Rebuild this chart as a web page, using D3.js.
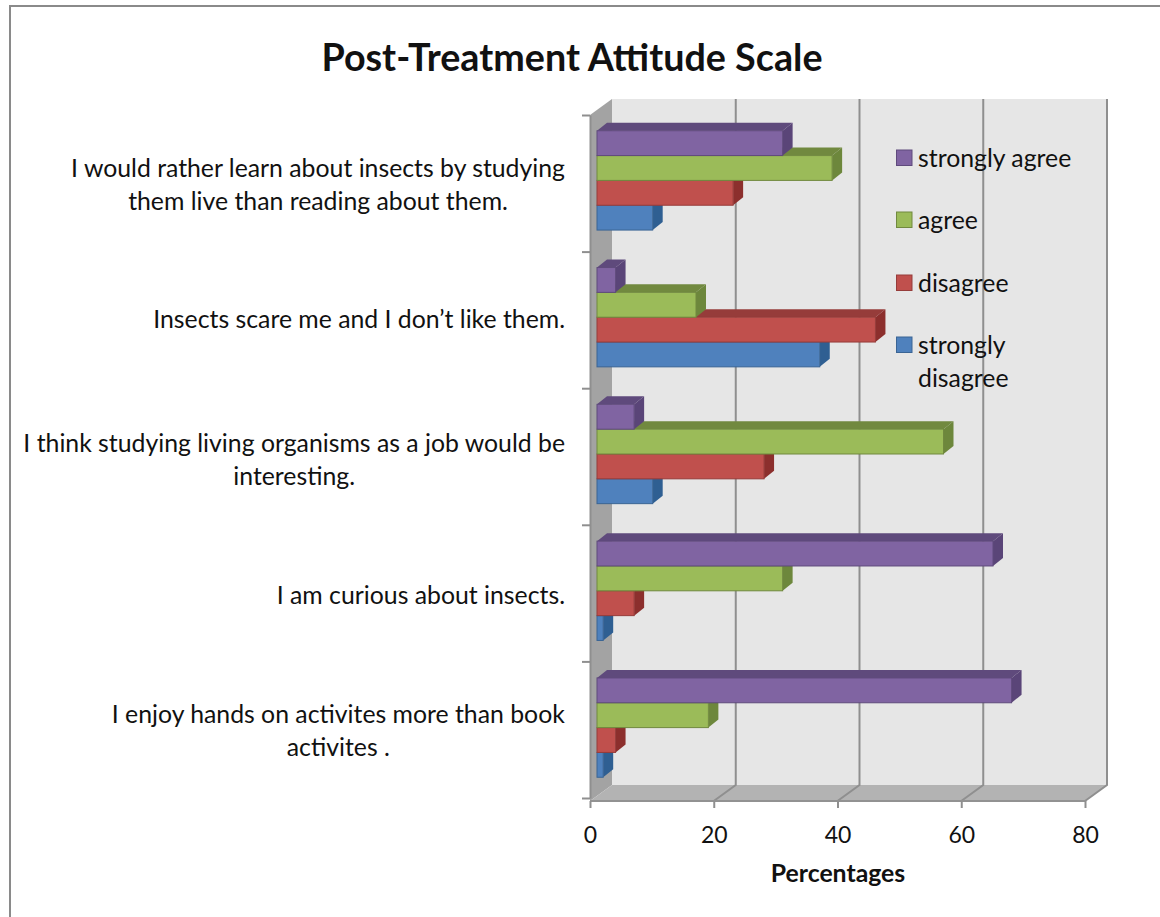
<!DOCTYPE html>
<html>
<head>
<meta charset="utf-8">
<script src="https://cdn.jsdelivr.net/npm/d3@7"></script>
<style>
  html, body { margin: 0; padding: 0; background: #fff; }
  svg { display: block; }
  text { font-family: Lato, "Open Sans", sans-serif; fill: #111; }
</style>
</head>
<body>
<svg id="chart" width="1160" height="917"></svg>
<script>
const categories = [
  ["I would rather learn about insects by studying", "them live than reading about them."],
  ["Insects scare me and I don\u2019t like them."],
  ["I think studying living organisms as a job would be", "interesting."],
  ["I am curious about insects."],
  ["I enjoy hands on activites more than book", "activites ."]
];
const seriesNames = ["strongly agree", "agree", "disagree", "strongly disagree"];
const stronglyAgree = [30, 3, 6, 64, 67];
const agree = [38, 16, 56, 30, 18];
const disagree = [22, 45, 27, 6, 3];
const stronglyDisagree = [9, 36, 9, 1, 1];
const seriesValues = [stronglyAgree, agree, disagree, stronglyDisagree];
const xTicks = [0, 20, 40, 60, 80];

// front, top, side colours per series
const colors = [
  ["#8064a2", "#5f4a7c", "#5a4578"],
  ["#9bbb59", "#71893f", "#6d873c"],
  ["#c0504d", "#963c3a", "#8c2f2d"],
  ["#4f81bd", "#3a6494", "#2f5f92"]
];

const svg = d3.select("#chart");
const depthX = 22, depthY = 16;
const barDx = 10, barDy = 8;
const plotLeft = 590, plotRight = 1085, plotTop = 115, plotBottom = 801;

const x = d3.scaleLinear().domain([0, 80]).range([plotLeft, plotRight]);
const yIdx = d3.scaleLinear().domain([0, 5]).range([plotTop, 798]);
const y = d3.scaleBand().domain(d3.range(5)).range([plotTop - 3, 798 - 2]).paddingInner(0.274).paddingOuter(0.137);
const yBar = d3.scaleBand().domain(d3.range(4)).range([0, y.bandwidth()]);

const poly = pts => pts.map(p => p.join(",")).join(" ");

// back wall, side wall, floor
svg.append("polygon")
  .attr("points", poly([[plotLeft + depthX, plotTop - depthY], [plotRight + depthX, plotTop - depthY], [plotRight + depthX, plotBottom - depthY], [plotLeft + depthX, plotBottom - depthY]]))
  .attr("fill", "#e6e6e6");
svg.append("polygon")
  .attr("points", poly([[plotLeft, plotTop], [plotLeft + depthX, plotTop - depthY], [plotLeft + depthX, plotBottom - depthY], [plotLeft, plotBottom]]))
  .attr("fill", "#a3a3a3");
svg.append("polygon")
  .attr("points", poly([[plotLeft, plotBottom], [plotLeft + depthX, plotBottom - depthY], [plotRight + depthX, plotBottom - depthY], [plotRight, plotBottom]]))
  .attr("fill", "#b3b3b3");

// gridlines on wall and floor
xTicks.filter(t => t > 0).forEach(t => {
  const px = x(t);
  svg.append("polyline")
    .attr("points", poly([[px, plotBottom], [px + depthX, plotBottom - depthY], [px + depthX, plotTop - depthY]]))
    .attr("fill", "none").attr("stroke", "#8f8f8f").attr("stroke-width", 2);
});
svg.append("line").attr("x1", plotLeft).attr("x2", plotRight).attr("y1", plotBottom).attr("y2", plotBottom)
  .attr("stroke", "#929292").attr("stroke-width", 2);

// axes
const xAxis = svg.append("g").attr("transform", `translate(0,${plotBottom})`)
  .call(d3.axisBottom(x).tickValues(xTicks).tickSize(7).tickSizeOuter(0).tickPadding(19));
xAxis.select(".domain").remove();
xAxis.selectAll("line").attr("stroke", "#8f8f8f").attr("stroke-width", 2);
xAxis.selectAll("text").attr("font-size", 23).style("fill", "#111");

const yAxis = svg.append("g").attr("transform", `translate(${plotLeft},0)`)
  .call(d3.axisLeft(yIdx).ticks(5).tickFormat("").tickSize(8).tickSizeOuter(0));
yAxis.selectAll("line").attr("stroke", "#8f8f8f").attr("stroke-width", 2);
yAxis.select(".domain").attr("stroke", "#8f8f8f").attr("stroke-width", 2);

// bars, blue first so each upper bar covers the top face of the one below
const barStart = plotLeft + 7;
const barX = v => x(v) + 7;
categories.forEach((c, i) => {
  [3, 2, 1, 0].forEach(s => {
    const v = seriesValues[s][i];
    const x1 = barX(v);
    const y0 = y(i) + yBar(s);
    const h = yBar.bandwidth();
    const col = colors[s];
    const bar = svg.append("g");
    bar.append("polygon")
      .attr("points", poly([[barStart, y0], [barStart + barDx, y0 - barDy], [x1 + barDx, y0 - barDy], [x1, y0]]))
      .attr("fill", col[1]);
    bar.append("polygon")
      .attr("points", poly([[x1, y0], [x1 + barDx, y0 - barDy], [x1 + barDx, y0 + h - barDy], [x1, y0 + h]]))
      .attr("fill", col[2]);
    bar.append("rect")
      .attr("x", barStart).attr("y", y0).attr("width", x1 - barStart).attr("height", h)
      .attr("fill", col[0]).attr("stroke", col[1]).attr("stroke-width", 1);
  });
});

// category labels, centred lines in a block flush right
const labelBase = [177, 328, 452, 604, 723];
categories.forEach((lines, i) => {
  const t = svg.append("text").attr("text-anchor", "middle").attr("font-size", 24.8);
  lines.forEach((l, k) => {
    t.append("tspan").attr("x", 0).attr("y", labelBase[i] + k * 33).text(l);
  });
  const bb = t.node().getBBox();
  t.attr("transform", `translate(${565 - bb.width / 2},0)`);
});

// legend
const legendY = [150, 212, 275, 337];
seriesNames.forEach((name, s) => {
  svg.append("rect").attr("x", 896.5).attr("y", legendY[s]).attr("width", 15.5).attr("height", 15.5)
    .attr("fill", colors[s][0]).attr("stroke", colors[s][1]).attr("stroke-width", 1);
  const t = svg.append("text").attr("font-size", 24.8);
  const parts = name === "strongly disagree" ? ["strongly", "disagree"] : [name];
  parts.forEach((p, k) => t.append("tspan").attr("x", 918).attr("y", legendY[s] + 17 + k * 33).text(p));
});

svg.append("text").attr("x", 572).attr("y", 71).attr("text-anchor", "middle")
  .attr("font-size", 37.7).attr("font-weight", 700).text("Post-Treatment Attitude Scale");
svg.append("text").attr("x", 838).attr("y", 882).attr("text-anchor", "middle")
  .attr("font-size", 24.8).attr("font-weight", 700).text("Percentages");

// outer frame: only top and left edges show in the picture
svg.append("path").attr("d", "M10,917V6H1160").attr("fill", "none").attr("stroke", "#8a8a8a").attr("stroke-width", 2);
</script>
</body>
</html>
